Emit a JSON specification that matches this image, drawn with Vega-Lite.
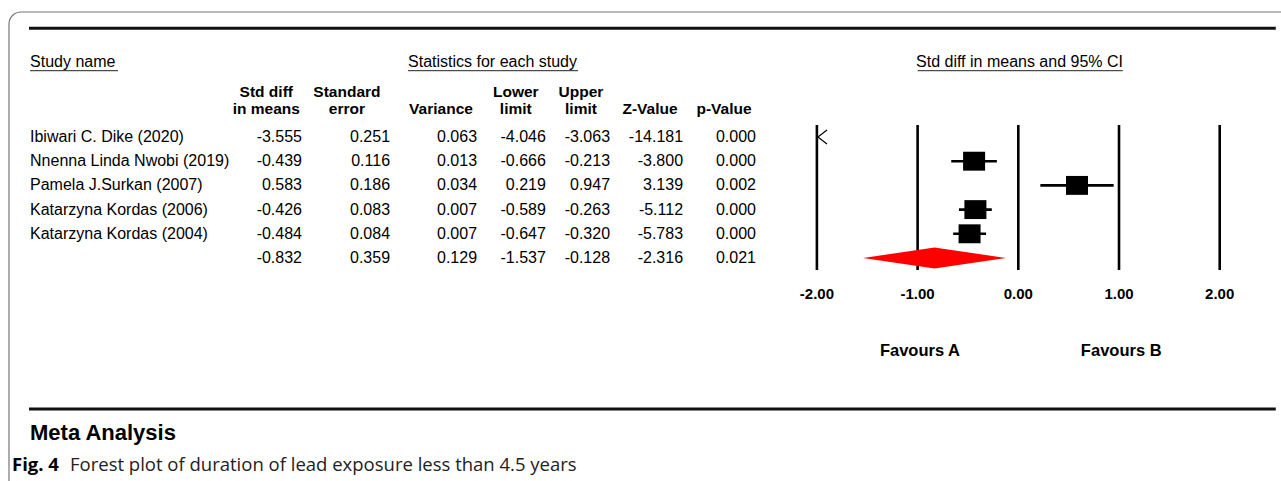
{
  "$schema": "https://vega.github.io/schema/vega-lite/v6.json",
  "width": 1281,
  "height": 481,
  "autosize": {"type": "none"},
  "padding": 0,
  "background": "white",
  "config": {
    "view": {"stroke": null},
    "axis": {"disable": true},
    "locale": {"number": {"decimal": ".", "thousands": ",", "grouping": [3], "currency": ["$", ""], "minus": "-"}},
    "text": {"font": "Liberation Sans", "color": "#000"}
  },
  "datasets": {
    "studies": [
      {"row": 1, "study": "Ibiwari C. Dike (2020)", "es": -3.555, "se": 0.251, "var": 0.063, "lo": -4.046, "hi": -3.063, "z": -14.181, "p": 0.000},
      {"row": 2, "study": "Nnenna Linda Nwobi (2019)", "es": -0.439, "se": 0.116, "var": 0.013, "lo": -0.666, "hi": -0.213, "z": -3.800, "p": 0.000},
      {"row": 3, "study": "Pamela J.Surkan (2007)", "es": 0.583, "se": 0.186, "var": 0.034, "lo": 0.219, "hi": 0.947, "z": 3.139, "p": 0.002},
      {"row": 4, "study": "Katarzyna Kordas (2006)", "es": -0.426, "se": 0.083, "var": 0.007, "lo": -0.589, "hi": -0.263, "z": -5.112, "p": 0.000},
      {"row": 5, "study": "Katarzyna Kordas (2004)", "es": -0.484, "se": 0.084, "var": 0.007, "lo": -0.647, "hi": -0.320, "z": -5.783, "p": 0.000},
      {"row": 6, "study": "", "es": -0.832, "se": 0.359, "var": 0.129, "lo": -1.537, "hi": -0.128, "z": -2.316, "p": 0.021}
    ],
    "ticks": [{"t": -2}, {"t": -1}, {"t": 0}, {"t": 1}, {"t": 2}],
    "one": [{}]
  },
  "data": {"name": "studies"},
  "layer": [
    {
      "data": {"name": "one"},
      "mark": {"type": "rect", "fill": "transparent", "stroke": "#777", "strokeWidth": 1.2, "cornerRadius": 12},
      "encoding": {
        "x": {"datum": -10.023, "type": "quantitative", "scale": {"domain": [-10.1122, 2.6087], "nice": false, "zero": false}, "axis": null},
        "x2": {"datum": 2.8},
        "y": {"datum": -4.165, "type": "quantitative", "scale": {"domain": [-4.661, 15.215], "nice": false, "zero": false, "reverse": true}, "axis": null},
        "y2": {"datum": 15.8}
      }
    },
    {
      "data": {"name": "one"},
      "mark": {"type": "rule", "color": "#111", "strokeWidth": 3},
      "encoding": {"x": {"datum": -9.824}, "x2": {"datum": 2.557}, "y": {"datum": -3.492}}
    },
    {
      "data": {"name": "one"},
      "mark": {"type": "rule", "color": "#111", "strokeWidth": 3},
      "encoding": {"x": {"datum": -9.824}, "x2": {"datum": 2.557}, "y": {"datum": 12.24}}
    },
    {
      "data": {"name": "one"},
      "mark": {"type": "text", "align": "left", "baseline": "middle", "fontSize": 16},
      "encoding": {"x": {"datum": -9.814}, "y": {"datum": -2.107}, "text": {"value": "Study name"}}
    },
    {
      "data": {"name": "one"},
      "mark": {"type": "rule", "color": "#222", "strokeWidth": 1},
      "encoding": {"x": {"datum": -9.814}, "x2": {"datum": -8.94}, "y": {"datum": -1.74}}
    },
    {
      "data": {"name": "one"},
      "mark": {"type": "text", "align": "left", "baseline": "middle", "fontSize": 16},
      "encoding": {"x": {"datum": -6.06}, "y": {"datum": -2.107}, "text": {"value": "Statistics for each study"}}
    },
    {
      "data": {"name": "one"},
      "mark": {"type": "rule", "color": "#222", "strokeWidth": 1},
      "encoding": {"x": {"datum": -6.06}, "x2": {"datum": -4.372}, "y": {"datum": -1.74}}
    },
    {
      "data": {"name": "one"},
      "mark": {"type": "text", "align": "center", "baseline": "middle", "fontSize": 16},
      "encoding": {"x": {"datum": 0.012}, "y": {"datum": -2.107}, "text": {"value": "Std diff in means and 95% CI"}}
    },
    {
      "data": {"name": "one"},
      "mark": {"type": "rule", "color": "#222", "strokeWidth": 1},
      "encoding": {"x": {"datum": -0.999}, "x2": {"datum": 1.037}, "y": {"datum": -1.74}}
    },
    {
      "data": {"name": "one"},
      "mark": {"type": "text", "align": "center", "baseline": "alphabetic", "fontSize": 15.5, "fontWeight": "bold", "lineHeight": 17},
      "encoding": {"x": {"datum": -7.468}, "y": {"datum": -0.64}, "text": {"value": ["Std diff", "in means"]}}
    },
    {
      "data": {"name": "one"},
      "mark": {"type": "text", "align": "center", "baseline": "alphabetic", "fontSize": 15.5, "fontWeight": "bold", "lineHeight": 17},
      "encoding": {"x": {"datum": -6.667}, "y": {"datum": -0.64}, "text": {"value": ["Standard", "error"]}}
    },
    {
      "data": {"name": "one"},
      "mark": {"type": "text", "align": "center", "baseline": "alphabetic", "fontSize": 15.5, "fontWeight": "bold"},
      "encoding": {"x": {"datum": -5.733}, "y": {"datum": 0.062}, "text": {"value": "Variance"}}
    },
    {
      "data": {"name": "one"},
      "mark": {"type": "text", "align": "center", "baseline": "alphabetic", "fontSize": 15.5, "fontWeight": "bold", "lineHeight": 17},
      "encoding": {"x": {"datum": -4.99}, "y": {"datum": -0.64}, "text": {"value": ["Lower", "limit"]}}
    },
    {
      "data": {"name": "one"},
      "mark": {"type": "text", "align": "center", "baseline": "alphabetic", "fontSize": 15.5, "fontWeight": "bold", "lineHeight": 17},
      "encoding": {"x": {"datum": -4.343}, "y": {"datum": -0.64}, "text": {"value": ["Upper", "limit"]}}
    },
    {
      "data": {"name": "one"},
      "mark": {"type": "text", "align": "center", "baseline": "alphabetic", "fontSize": 15.5, "fontWeight": "bold"},
      "encoding": {"x": {"datum": -3.657}, "y": {"datum": 0.062}, "text": {"value": "Z-Value"}}
    },
    {
      "data": {"name": "one"},
      "mark": {"type": "text", "align": "center", "baseline": "alphabetic", "fontSize": 15.5, "fontWeight": "bold"},
      "encoding": {"x": {"datum": -2.922}, "y": {"datum": 0.062}, "text": {"value": "p-Value"}}
    },
    {
      "mark": {"type": "text", "align": "left", "baseline": "middle", "fontSize": 16},
      "encoding": {"x": {"datum": -9.814}, "y": {"field": "row", "type": "quantitative"}, "text": {"field": "study"}}
    },
    {
      "mark": {"type": "text", "align": "right", "baseline": "middle", "fontSize": 16},
      "encoding": {"x": {"datum": -7.113}, "y": {"field": "row", "type": "quantitative"}, "text": {"field": "es", "type": "quantitative", "format": ".3f"}}
    },
    {
      "mark": {"type": "text", "align": "right", "baseline": "middle", "fontSize": 16},
      "encoding": {"x": {"datum": -6.239}, "y": {"field": "row", "type": "quantitative"}, "text": {"field": "se", "type": "quantitative", "format": ".3f"}}
    },
    {
      "mark": {"type": "text", "align": "right", "baseline": "middle", "fontSize": 16},
      "encoding": {"x": {"datum": -5.375}, "y": {"field": "row", "type": "quantitative"}, "text": {"field": "var", "type": "quantitative", "format": ".3f"}}
    },
    {
      "mark": {"type": "text", "align": "right", "baseline": "middle", "fontSize": 16},
      "encoding": {"x": {"datum": -4.691}, "y": {"field": "row", "type": "quantitative"}, "text": {"field": "lo", "type": "quantitative", "format": ".3f"}}
    },
    {
      "mark": {"type": "text", "align": "right", "baseline": "middle", "fontSize": 16},
      "encoding": {"x": {"datum": -4.054}, "y": {"field": "row", "type": "quantitative"}, "text": {"field": "hi", "type": "quantitative", "format": ".3f"}}
    },
    {
      "mark": {"type": "text", "align": "right", "baseline": "middle", "fontSize": 16},
      "encoding": {"x": {"datum": -3.329}, "y": {"field": "row", "type": "quantitative"}, "text": {"field": "z", "type": "quantitative", "format": ".3f"}}
    },
    {
      "mark": {"type": "text", "align": "right", "baseline": "middle", "fontSize": 16},
      "encoding": {"x": {"datum": -2.605}, "y": {"field": "row", "type": "quantitative"}, "text": {"field": "p", "type": "quantitative", "format": ".3f"}}
    },
    {
      "data": {"name": "ticks"},
      "mark": {"type": "rule", "color": "#000", "strokeWidth": 2.6},
      "encoding": {"x": {"field": "t", "type": "quantitative"}, "y": {"datum": 0.504}, "y2": {"datum": 6.496}}
    },
    {
      "data": {"name": "ticks"},
      "mark": {"type": "text", "align": "center", "baseline": "middle", "fontSize": 15, "fontWeight": "bold"},
      "encoding": {"x": {"field": "t", "type": "quantitative"}, "y": {"datum": 7.488}, "text": {"field": "t", "type": "quantitative", "format": ".2f"}}
    },
    {
      "transform": [{"filter": "datum.row < 6 && datum.hi >= -2"}],
      "mark": {"type": "rule", "color": "#000", "strokeWidth": 2.6},
      "encoding": {"x": {"field": "lo", "type": "quantitative"}, "x2": {"field": "hi"}, "y": {"field": "row", "type": "quantitative"}}
    },
    {
      "transform": [{"filter": "datum.row < 6 && datum.hi >= -2"}],
      "mark": {"type": "point", "shape": "M-1,-0.86L1,-0.86L1,0.86L-1,0.86Z", "filled": true, "fill": "#000", "opacity": 1, "size": 484, "strokeWidth": 0},
      "encoding": {"x": {"field": "es", "type": "quantitative"}, "y": {"field": "row", "type": "quantitative"}}
    },
    {
      "transform": [{"filter": "datum.row < 6 && datum.lo < -2"}],
      "mark": {"type": "point", "shape": "M0.3,-1L-1,0L0.3,1", "filled": false, "stroke": "#000", "strokeWidth": 1.2, "opacity": 1, "size": 196, "xOffset": 8},
      "encoding": {"x": {"datum": -2}, "y": {"field": "row", "type": "quantitative"}}
    },
    {
      "transform": [{"filter": "datum.row == 6"}],
      "mark": {"type": "point", "shape": "M-1,0L0,-0.147L1,0L0,0.147Z", "filled": true, "fill": "#ff0000", "opacity": 1, "size": 20449, "strokeWidth": 0},
      "encoding": {"x": {"field": "es", "type": "quantitative"}, "y": {"field": "row", "type": "quantitative"}}
    },
    {
      "data": {"name": "one"},
      "mark": {"type": "text", "align": "center", "baseline": "middle", "fontSize": 16.5, "fontWeight": "bold"},
      "encoding": {"x": {"datum": -0.977}, "y": {"datum": 9.831}, "text": {"value": "Favours A"}}
    },
    {
      "data": {"name": "one"},
      "mark": {"type": "text", "align": "center", "baseline": "middle", "fontSize": 16.5, "fontWeight": "bold"},
      "encoding": {"x": {"datum": 1.022}, "y": {"datum": 9.831}, "text": {"value": "Favours B"}}
    },
    {
      "data": {"name": "one"},
      "mark": {"type": "text", "align": "left", "baseline": "middle", "fontSize": 22, "fontWeight": "bold"},
      "encoding": {"x": {"datum": -9.814}, "y": {"datum": 13.231}, "text": {"value": "Meta Analysis"}}
    },
    {
      "data": {"name": "one"},
      "mark": {"type": "text", "align": "left", "baseline": "middle", "fontSize": 18.5, "fontWeight": "bold", "font": "Open Sans"},
      "encoding": {"x": {"datum": -9.993}, "y": {"datum": 14.554}, "text": {"value": "Fig. 4"}}
    },
    {
      "data": {"name": "one"},
      "mark": {"type": "text", "align": "left", "baseline": "middle", "fontSize": 18.5, "font": "Open Sans", "color": "#222"},
      "encoding": {"x": {"datum": -9.417}, "y": {"datum": 14.554}, "text": {"value": "Forest plot of duration of lead exposure less than 4.5 years"}}
    }
  ]
}
